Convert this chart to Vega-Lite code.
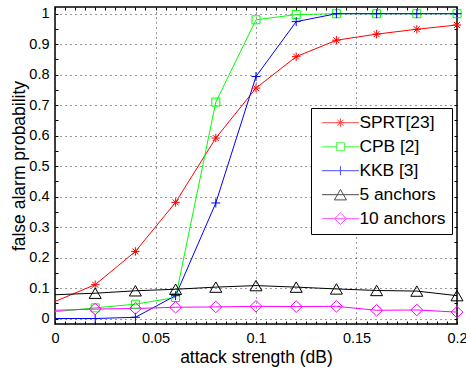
{
  "$schema": "https://vega.github.io/schema/vega-lite/v6.json",
  "width": 402,
  "height": 317,
  "autosize": {"type": "none"},
  "padding": {"left": 55, "top": 7, "right": 9, "bottom": 46},
  "background": "white",
  "config": {
    "font": "Liberation Sans",
    "view": {"stroke": "black", "strokeWidth": 1.5},
    "axis": {"labelColor": "black", "titleColor": "black", "tickColor": "black", "tickWidth": 1, "titleFontWeight": "normal", "labelFont": "Liberation Sans", "titleFont": "Liberation Sans"}
  },
  "data": {
    "values": [
      {"x": 0, "p": 0.056, "series": "SPRT[23]"},
      {"x": 0.02, "p": 0.111, "series": "SPRT[23]"},
      {"x": 0.04, "p": 0.22, "series": "SPRT[23]"},
      {"x": 0.06, "p": 0.381, "series": "SPRT[23]"},
      {"x": 0.08, "p": 0.592, "series": "SPRT[23]"},
      {"x": 0.1, "p": 0.756, "series": "SPRT[23]"},
      {"x": 0.12, "p": 0.859, "series": "SPRT[23]"},
      {"x": 0.14, "p": 0.913, "series": "SPRT[23]"},
      {"x": 0.16, "p": 0.933, "series": "SPRT[23]"},
      {"x": 0.18, "p": 0.949, "series": "SPRT[23]"},
      {"x": 0.2, "p": 0.963, "series": "SPRT[23]"},
      {"x": 0, "p": 0.022, "series": "CPB [2]"},
      {"x": 0.02, "p": 0.035, "series": "CPB [2]"},
      {"x": 0.04, "p": 0.047, "series": "CPB [2]"},
      {"x": 0.06, "p": 0.069, "series": "CPB [2]"},
      {"x": 0.08, "p": 0.71, "series": "CPB [2]"},
      {"x": 0.1, "p": 0.98, "series": "CPB [2]"},
      {"x": 0.12, "p": 0.997, "series": "CPB [2]"},
      {"x": 0.14, "p": 1.0, "series": "CPB [2]"},
      {"x": 0.16, "p": 1.0, "series": "CPB [2]"},
      {"x": 0.18, "p": 1.0, "series": "CPB [2]"},
      {"x": 0.2, "p": 1.0, "series": "CPB [2]"},
      {"x": 0, "p": 0.0, "series": "KKB [3]"},
      {"x": 0.02, "p": 0.0, "series": "KKB [3]"},
      {"x": 0.04, "p": 0.004, "series": "KKB [3]"},
      {"x": 0.06, "p": 0.075, "series": "KKB [3]"},
      {"x": 0.08, "p": 0.379, "series": "KKB [3]"},
      {"x": 0.1, "p": 0.794, "series": "KKB [3]"},
      {"x": 0.12, "p": 0.974, "series": "KKB [3]"},
      {"x": 0.14, "p": 1.0, "series": "KKB [3]"},
      {"x": 0.16, "p": 1.0, "series": "KKB [3]"},
      {"x": 0.18, "p": 1.0, "series": "KKB [3]"},
      {"x": 0.2, "p": 1.0, "series": "KKB [3]"},
      {"x": 0, "p": 0.078, "series": "5 anchors"},
      {"x": 0.02, "p": 0.083, "series": "5 anchors"},
      {"x": 0.04, "p": 0.091, "series": "5 anchors"},
      {"x": 0.06, "p": 0.096, "series": "5 anchors"},
      {"x": 0.08, "p": 0.103, "series": "5 anchors"},
      {"x": 0.1, "p": 0.108, "series": "5 anchors"},
      {"x": 0.12, "p": 0.103, "series": "5 anchors"},
      {"x": 0.14, "p": 0.097, "series": "5 anchors"},
      {"x": 0.16, "p": 0.092, "series": "5 anchors"},
      {"x": 0.18, "p": 0.09, "series": "5 anchors"},
      {"x": 0.2, "p": 0.075, "series": "5 anchors"},
      {"x": 0, "p": 0.027, "series": "10 anchors"},
      {"x": 0.02, "p": 0.031, "series": "10 anchors"},
      {"x": 0.04, "p": 0.033, "series": "10 anchors"},
      {"x": 0.06, "p": 0.037, "series": "10 anchors"},
      {"x": 0.08, "p": 0.038, "series": "10 anchors"},
      {"x": 0.1, "p": 0.04, "series": "10 anchors"},
      {"x": 0.12, "p": 0.039, "series": "10 anchors"},
      {"x": 0.14, "p": 0.04, "series": "10 anchors"},
      {"x": 0.16, "p": 0.027, "series": "10 anchors"},
      {"x": 0.18, "p": 0.028, "series": "10 anchors"},
      {"x": 0.2, "p": 0.021, "series": "10 anchors"}
    ]
  },
  "layer": [
    {
      "mark": {"type": "line", "strokeWidth": 1},
      "encoding": {
        "x": {
          "field": "x", "type": "quantitative",
          "scale": {"domain": [0, 0.2], "nice": false, "zero": false},
          "axis": {
            "orient": "bottom", "title": "attack strength (dB)",
            "values": [0,0.005,0.01,0.015,0.02,0.025,0.03,0.035,0.04,0.045,0.05,0.055,0.06,0.065,0.07,0.075,0.08,0.085,0.09,0.095,0.1,0.105,0.11,0.115,0.12,0.125,0.13,0.135,0.14,0.145,0.15,0.155,0.16,0.165,0.17,0.175,0.18,0.185,0.19,0.195,0.2],
            "labelExpr": "abs(datum.value*20 - round(datum.value*20)) < 0.001 ? toString(round(datum.value*100)/100) : ''",
            "grid": true, "gridDash": [1, 4], "gridColor": "#333333", "gridWidth": 1,
            "gridOpacity": {"condition": {"test": "abs(datum.value*20 - round(datum.value*20)) < 0.001", "value": 1}, "value": 0},
            "tickSize": -3, "domain": false,
            "labelPadding": 10.5, "labelFontSize": 14.5, "labelFlush": false, "labelOverlap": false,
            "titleFontSize": 17.5, "titlePadding": 3
          }
        },
        "y": {
          "field": "p", "type": "quantitative",
          "scale": {"domain": [-0.018, 1.022], "nice": false, "zero": false},
          "axis": {
            "orient": "left", "title": "false alarm probability",
            "values": [0,0.05,0.1,0.15,0.2,0.25,0.3,0.35,0.4,0.45,0.5,0.55,0.6,0.65,0.7,0.75,0.8,0.85,0.9,0.95,1],
            "labelExpr": "abs(datum.value*10 - round(datum.value*10)) < 0.001 ? toString(round(datum.value*10)/10) : ''",
            "grid": true, "gridDash": [1, 4], "gridColor": "#333333", "gridWidth": 1,
            "gridOpacity": {"condition": {"test": "abs(datum.value*10 - round(datum.value*10)) < 0.001", "value": 1}, "value": 0},
            "tickSize": -3, "domain": false,
            "labelPadding": 9, "labelFontSize": 14.5, "labelFlush": false, "labelOverlap": false,
            "titleFontSize": 17.5, "titlePadding": 0.5
          }
        },
        "color": {
          "field": "series", "type": "nominal",
          "scale": {"domain": ["SPRT[23]", "CPB [2]", "KKB [3]", "5 anchors", "10 anchors"], "range": ["#ff0000", "#00ff00", "#0000ff", "#000000", "#ff00ff"]},
          "legend": null
        }
      }
    },
    {
      "transform": [{"filter": "datum.x > 0"}],
      "mark": {"type": "point", "filled": false, "strokeWidth": 1, "size": 100, "opacity": 1},
      "encoding": {
        "x": {
          "field": "x", "type": "quantitative",
          "axis": {
            "orient": "top", "title": null, "labels": false, "grid": false, "domain": false, "tickSize": -3,
            "values": [0,0.005,0.01,0.015,0.02,0.025,0.03,0.035,0.04,0.045,0.05,0.055,0.06,0.065,0.07,0.075,0.08,0.085,0.09,0.095,0.1,0.105,0.11,0.115,0.12,0.125,0.13,0.135,0.14,0.145,0.15,0.155,0.16,0.165,0.17,0.175,0.18,0.185,0.19,0.195,0.2]
          }
        },
        "y": {
          "field": "p", "type": "quantitative",
          "axis": {
            "orient": "right", "title": null, "labels": false, "grid": false, "domain": false, "tickSize": -3,
            "values": [0,0.05,0.1,0.15,0.2,0.25,0.3,0.35,0.4,0.45,0.5,0.55,0.6,0.65,0.7,0.75,0.8,0.85,0.9,0.95,1]
          }
        },
        "color": {
          "field": "series", "type": "nominal",
          "scale": {"domain": ["SPRT[23]", "CPB [2]", "KKB [3]", "5 anchors", "10 anchors"], "range": ["#ff0000", "#00ff00", "#0000ff", "#000000", "#ff00ff"]},
          "legend": null
        },
        "shape": {
          "field": "series", "type": "nominal",
          "scale": {
            "domain": ["SPRT[23]", "CPB [2]", "KKB [3]", "5 anchors", "10 anchors"],
            "range": [
              "M0,-0.85L0,0.85M-0.85,0L0.85,0M-0.6,-0.6L0.6,0.6M-0.6,0.6L0.6,-0.6",
              "M-0.8,-0.8L0.8,-0.8L0.8,0.8L-0.8,0.8Z",
              "M0,-0.9L0,0.9M-0.9,0L0.9,0",
              "M0,-1.04L1.2,1.04L-1.2,1.04Z",
              "M0,-1.15L1.2,0L0,1.15L-1.2,0Z"
            ]
          },
          "legend": null
        }
      }
    },
    {
      "transform": [{"filter": "datum.x < 0"}],
      "mark": {"type": "point", "filled": false, "strokeWidth": 1},
      "encoding": {
        "x": {"field": "x", "type": "quantitative", "axis": null},
        "y": {"field": "p", "type": "quantitative", "axis": null},
        "color": {
          "field": "series", "type": "nominal",
          "scale": {"domain": ["SPRT[23]", "CPB [2]", "KKB [3]", "5 anchors", "10 anchors"], "range": ["#ff0000", "#00ff00", "#0000ff", "#000000", "#ff00ff"]},
          "legend": {
            "orient": "none", "legendX": 256, "legendY": 101, "title": null,
            "strokeColor": "black", "fillColor": "white", "padding": 6, "rowPadding": 5,
            "labelFontSize": 17.4, "labelFont": "Liberation Sans", "labelColor": "black", "labelOffset": 25,
            "symbolSize": 100, "symbolStrokeWidth": 1,
            "encode": {"legend": {"update": {"strokeWidth": {"value": 1.5}}}}
          }
        },
        "shape": {
          "field": "series", "type": "nominal",
          "scale": {
            "domain": ["SPRT[23]", "CPB [2]", "KKB [3]", "5 anchors", "10 anchors"],
            "range": [
              "M-0.75,0L6.65,0M2.95,-0.85L2.95,0.85M2.1,0L3.8,0M2.35,-0.6L3.55,0.6M2.35,0.6L3.55,-0.6",
              "M-0.75,0L2.15,0M3.75,0L6.65,0M2.15,-0.8L3.75,-0.8L3.75,0.8L2.15,0.8Z",
              "M-0.75,0L6.65,0M2.95,-0.9L2.95,0.9",
              "M-0.75,0L6.65,0M2.95,-1.04L4.15,1.04L1.75,1.04Z",
              "M-0.75,0L6.65,0M2.95,-1.15L4.15,0L2.95,1.15L1.75,0Z"
            ]
          },
          "legend": {
            "orient": "none", "legendX": 256, "legendY": 101, "title": null,
            "strokeColor": "black", "fillColor": "white", "padding": 6, "rowPadding": 5,
            "labelFontSize": 17.4, "labelFont": "Liberation Sans", "labelColor": "black", "labelOffset": 25,
            "symbolSize": 100, "symbolStrokeWidth": 1,
            "encode": {"legend": {"update": {"strokeWidth": {"value": 1.5}}}}
          }
        }
      }
    }
  ],
  "resolve": {
    "scale": {"shape": "independent", "color": "independent"},
    "axis": {"x": "independent", "y": "independent"}
  }
}
